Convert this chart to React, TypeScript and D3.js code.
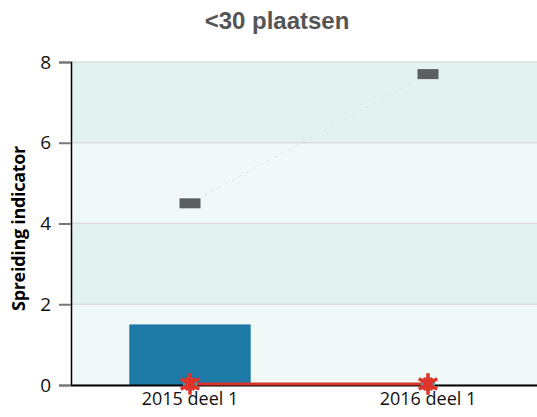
import * as d3 from 'd3';
import { useEffect, useRef } from 'react';

const categories = ['2015 deel 1', '2016 deel 1'];
const barValues = [1.5, 0];
const markerValues = [4.5, 7.7];
const lineValues = [0, 0];
const yTicks = [0, 2, 4, 6, 8];

const W = 537;
const H = 417;

export default function App() {
  const ref = useRef<SVGSVGElement>(null);

  useEffect(() => {
    const svg = d3.select(ref.current);
    svg.selectAll('*').remove();

    const margin = { left: 71, top: 62, right: -10, bottom: 32 };
    const x = d3.scaleBand()
      .domain(categories)
      .range([margin.left, W - margin.right]);
    const y = d3.scaleLinear()
      .domain([0, 8])
      .range([H - margin.bottom, margin.top]);

    // background bands
    const bands = d3.pairs(yTicks);
    svg.append('g')
      .selectAll('rect')
      .data(bands)
      .enter()
      .append('rect')
      .attr('x', margin.left)
      .attr('width', W - margin.left)
      .attr('y', (d) => y(d[1]))
      .attr('height', (d) => y(d[0]) - y(d[1]))
      .attr('fill', (d, i) => (i % 2 === 0 ? '#f0f8f8' : '#e2f2f1'));

    // grid lines
    svg.append('g')
      .selectAll('line')
      .data(yTicks)
      .enter()
      .append('line')
      .attr('x1', margin.left)
      .attr('x2', W)
      .attr('y1', (d) => y(d))
      .attr('y2', (d) => y(d))
      .attr('stroke', '#dcdcdc')
      .attr('stroke-width', 1.5);

    // bars
    const barW = x.bandwidth() * 0.51;
    svg.append('g')
      .selectAll('rect')
      .data(barValues)
      .enter()
      .append('rect')
      .attr('x', (d, i) => x(categories[i])! + x.bandwidth() / 2 - barW / 2)
      .attr('width', barW)
      .attr('y', (d) => y(d))
      .attr('height', (d) => y(0) - y(d))
      .attr('fill', '#1d7aa6');

    const cx = (i: number) => x(categories[i])! + x.bandwidth() / 2;

    // dashed connector of markers
    svg.append('path')
      .datum(markerValues)
      .attr('d', d3.line<number>().x((d, i) => cx(i)).y((d) => y(d)))
      .attr('fill', 'none')
      .attr('stroke', '#dedede')
      .attr('stroke-width', 1)
      .attr('stroke-dasharray', '3,5');

    // grey markers
    svg.append('g')
      .selectAll('rect')
      .data(markerValues)
      .enter()
      .append('rect')
      .attr('x', (d, i) => cx(i) - 10.5)
      .attr('y', (d) => y(d) - 5)
      .attr('width', 21)
      .attr('height', 10)
      .attr('fill', '#5b5f5f');

    // y axis
    const yAxis = svg.append('g')
      .attr('transform', `translate(${margin.left},0)`)
      .call(d3.axisLeft(y).tickValues(yTicks).tickSize(12).tickPadding(8));
    yAxis.select('.domain').attr('stroke', '#000').attr('stroke-width', 1.5);
    yAxis.selectAll('.tick line').attr('stroke', '#777').attr('stroke-width', 2);
    yAxis.selectAll('text')
      .attr('font-family', 'Open Sans')
      .attr('font-size', 19)
      .attr('fill', '#111');

    // x axis
    const xAxis = svg.append('g')
      .attr('transform', `translate(0,${y(0)})`)
      .call(d3.axisBottom(x).tickSize(0).tickPadding(7));
    xAxis.select('.domain').attr('stroke', '#000').attr('stroke-width', 2);
    xAxis.selectAll('text')
      .attr('font-family', 'Open Sans')
      .attr('font-size', 18)
      .attr('fill', '#111');

    // red line
    svg.append('path')
      .datum(lineValues)
      .attr('d', d3.line<number>().x((d, i) => cx(i)).y((d) => y(d) - 1))
      .attr('fill', 'none')
      .attr('stroke', '#d8342a')
      .attr('stroke-width', 3);

    svg.append('g')
      .selectAll('path')
      .data(lineValues)
      .enter()
      .append('path')
      .attr('transform', (d, i) => `translate(${cx(i)},${y(d) - 1})`)
      .attr('d', d3.symbol().type(d3.symbolCross).size(110)())
      .attr('fill', '#4f9ea0');
    svg.append('g')
      .selectAll('path')
      .data(lineValues)
      .enter()
      .append('path')
      .attr('transform', (d, i) => `translate(${cx(i)},${y(d) - 1})`)
      .attr('d', d3.symbol().type(d3.symbolAsterisk).size(320)())
      .attr('fill', 'none')
      .attr('stroke', '#e0332a')
      .attr('stroke-width', 3.5);
    svg.append('g')
      .selectAll('path')
      .data(lineValues)
      .enter()
      .append('path')
      .attr('transform', (d, i) => `translate(${cx(i)},${y(d) - 1}) rotate(45)`)
      .attr('d', d3.symbol().type(d3.symbolCross).size(120)())
      .attr('fill', '#e0332a');

    // title
    svg.append('text')
      .attr('x', 277)
      .attr('y', 29)
      .attr('text-anchor', 'middle')
      .attr('font-family', 'Liberation Sans')
      .attr('font-weight', 'bold')
      .attr('font-size', 24)
      .attr('fill', '#555')
      .text('<30 plaatsen');

    // y label
    svg.append('text')
      .attr('transform', `translate(25,${(y(0) + y(8)) / 2 + 5}) rotate(-90)`)
      .attr('text-anchor', 'middle')
      .attr('font-family', 'Open Sans')
      .attr('font-weight', 'bold')
      .attr('font-size', 18)
      .attr('letter-spacing', -0.3)
      .attr('fill', '#000')
      .text('Spreiding indicator');
  }, []);

  return (
    <svg
      ref={ref}
      width={W}
      height={H}
      style={{ position: 'absolute', left: 0, top: 0, overflow: 'hidden' }}
    />
  );
}
